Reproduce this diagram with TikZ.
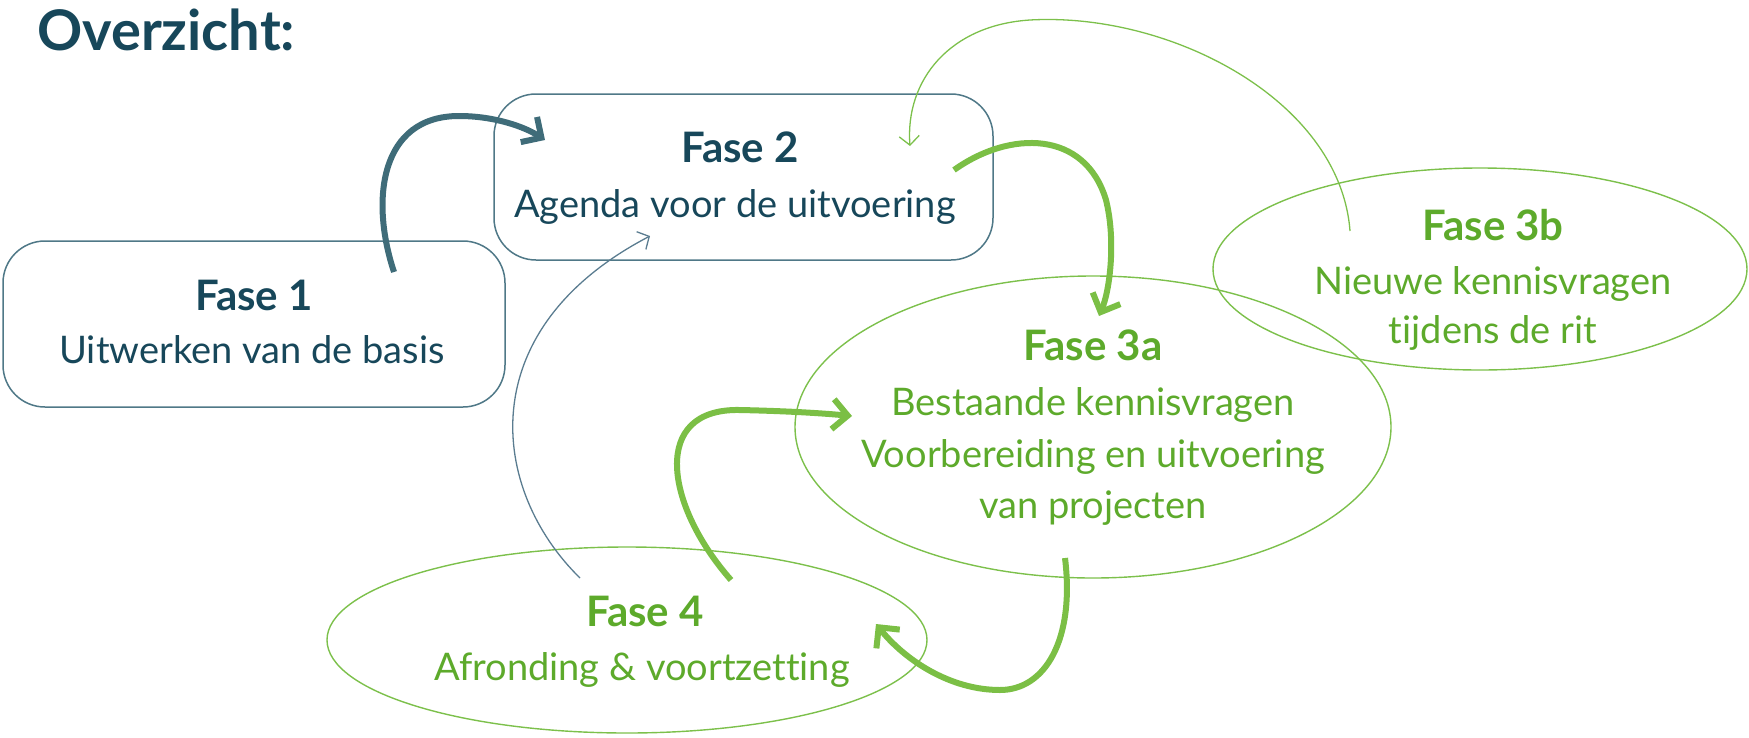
\documentclass[tikz,border=0pt]{standalone}
\usepackage{fontspec}
\setmainfont{Lato}[Ligatures={NoCommon,NoContextual}]
\usetikzlibrary{shapes.geometric,arrows.meta}
\definecolor{darkteal}{HTML}{17475A}
\definecolor{boxteal}{HTML}{4F7887}
\definecolor{arrteal}{HTML}{3F6C79}
\definecolor{thinblue}{HTML}{5A7C90}
\definecolor{gtext}{HTML}{5DAA2B}
\definecolor{gline}{HTML}{7CC04B}
\definecolor{garrow}{HTML}{7BBF45}
\tikzset{
  fasebox/.style={draw=boxteal, line width=1.5pt, rounded corners=42pt, inner sep=0pt, outer sep=0pt},
  faseell/.style={ellipse, draw=gline, line width=1.4pt, inner sep=0pt, outer sep=0pt},
  head/.style={font=\fontsize{42}{42}\selectfont\bfseries, anchor=base},
  body/.style={font=\fontsize{38}{38}\selectfont, anchor=base},
  thickarr/.style={line width=6pt, -{Straight Barb[length=15pt,width=30pt]}},
  thinarr/.style={line width=1.3pt, -{Straight Barb[length=9pt,width=20pt]}},
}
\begin{document}
\begin{tikzpicture}[x=1pt,y=-1pt]
\useasboundingbox (0,0) rectangle (1749,737);
% title
\node[font=\fontsize{56}{56}\selectfont\bfseries, text=darkteal, anchor=base west, inner sep=0pt] (title) at (37,50) {Overzicht:};
% shapes
\node[fasebox, minimum width=502pt, minimum height=166pt] (f1) at (254,324) {};
\node[fasebox, minimum width=499pt, minimum height=166pt] (f2) at (743.5,177) {};
\node[faseell, minimum width=596pt, minimum height=302pt] (f3a) at (1093,427) {};
\node[faseell, minimum width=534pt, minimum height=202pt] (f3b) at (1480,269) {};
\node[faseell, minimum width=600pt, minimum height=186pt] (f4) at (627,640) {};
% arrow endpoints
\coordinate (a1s) at (394,272);
\coordinate (a1e) at (545,140);
\coordinate (a2s) at (954,170);
\coordinate (a2e) at (1099,316);
\coordinate (a3s) at (1350,231);
\coordinate (a3e) at (910,146);
\coordinate (a4s) at (580,578);
\coordinate (a4e) at (650,236);
\coordinate (a5s) at (731,580);
\coordinate (a5e) at (852,416);
\coordinate (a6s) at (1065,558);
\coordinate (a6e) at (876,624);
% arrows
\draw[thickarr, draw=arrteal] (a1s) .. controls (370,200) and (380,116) .. (459,116) .. controls (495,116) and (525,127) .. (a1e);
\draw[thickarr, draw=garrow] (a2s) .. controls (1010,130) and (1085,130) .. (1106,200) .. controls (1116,240) and (1110,290) .. (a2e);
\draw[thinarr, draw=gline] (a3s) .. controls (1340,100) and (1170,12) .. (1030,20) .. controls (950,25) and (905,80) .. (a3e);
\draw[thinarr, draw=thinblue] (a4s) .. controls (490,490) and (470,330) .. (a4e);
\draw[thickarr, draw=garrow] (a5s) .. controls (665,505) and (650,408) .. (740,410) .. controls (785,411) and (820,413) .. (a5e);
\draw[thickarr, draw=garrow] (a6s) .. controls (1075,640) and (1045,690) .. (1000,690) .. controls (950,690) and (905,660) .. (a6e);
% texts
\node[head, text=darkteal] (t1a) at (254,310) {Fase 1};
\node[body, text=darkteal] (t1b) at (252,363) {Uitwerken van de basis};
\node[head, text=darkteal] (t2a) at (740,162) {Fase 2};
\node[body, text=darkteal] (t2b) at (735,217) {Agenda voor de uitvoering};
\node[head, text=gtext] (t3a1) at (1093,360) {Fase 3a};
\node[body, text=gtext] (t3a2) at (1093,415) {Bestaande kennisvragen};
\node[body, text=gtext] (t3a3) at (1093,467) {Voorbereiding en uitvoering};
\node[body, text=gtext] (t3a4) at (1093,518) {van projecten};
\node[head, text=gtext] (t3b1) at (1493,240) {Fase 3b};
\node[body, text=gtext] (t3b2) at (1493,294) {Nieuwe kennisvragen};
\node[body, text=gtext] (t3b3) at (1493,343) {tijdens de rit};
\node[head, text=gtext] (t4a) at (645,626) {Fase 4};
\node[body, text=gtext] (t4b) at (642,680) {Afronding \& voortzetting};
\end{tikzpicture}
\end{document}
